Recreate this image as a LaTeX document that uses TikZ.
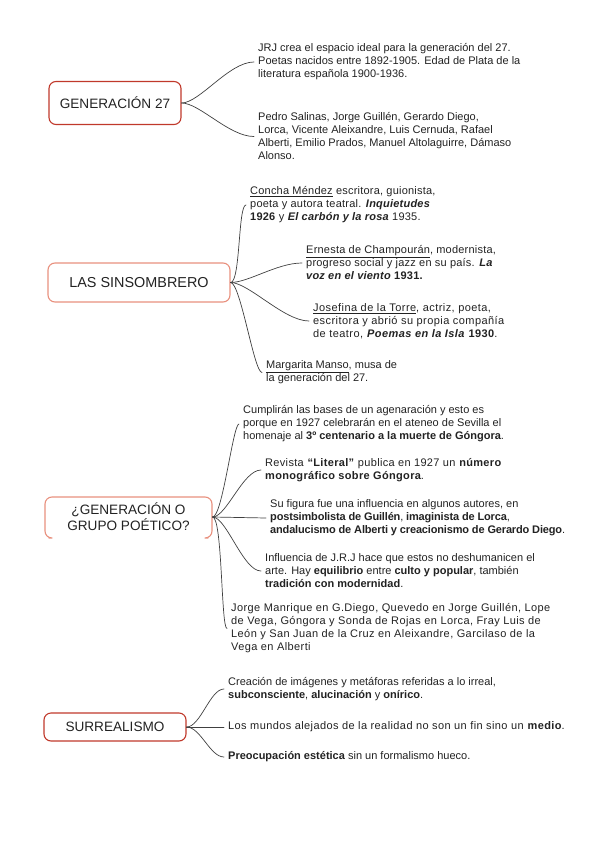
\documentclass[tikz,border=0pt]{standalone}
\usepackage{fontspec}
\setmainfont{Liberation Sans}
\definecolor{rojo}{HTML}{C0392B}
\definecolor{salmon}{HTML}{E8907E}
\definecolor{tinta}{HTML}{222222}
\begin{document}
\begin{tikzpicture}[
	x=1pt, y=-1pt, line join=round, line cap=round,
	every node/.style={text=tinta},
	tema/.style={rounded corners=7pt, line width=1.1pt, align=center, inner sep=0pt,
		font=\fontsize{13.6}{16}\selectfont},
	idea/.style={anchor=west, align=left, inner xsep=4pt, inner ysep=0pt,
		font=\fontsize{11}{13}\selectfont},
	abierta/.style={font=\fontsize{11}{13}\selectfont\addfontfeature{LetterSpace=#1}},
	rama/.style={draw=black!75, line width=0.7pt}
	]
	\useasboundingbox (0,0) rectangle (600,848);
	
	% 1. GENERACIÓN 27
	\node[tema, draw=rojo, minimum width=132pt, minimum height=43pt] (gen) at (115,103) {GENERACIÓN 27};
	\node[idea] (jrj) at (254,62) {JRJ crea el espacio ideal para la generación del 27.\\
		Poetas nacidos entre 1892-1905. Edad de Plata de la\\
		literatura española 1900-1936.};
	\node[idea] (poetas) at (254,136.5) {Pedro Salinas, Jorge Guillén, Gerardo Diego,\\
		Lorca, Vicente Aleixandre, Luis Cernuda, Rafael\\
		Alberti, Emilio Prados, Manuel Altolaguirre, Dámaso\\
		Alonso.};
	\draw[rama] (gen.east) .. controls +(18,0) and +(-25,0) .. (jrj.west);
	\draw[rama] (gen.east) .. controls +(18,0) and +(-25,0) .. (poetas.west);
	
	% 2. LAS SINSOMBRERO
	\node[tema, draw=salmon, minimum width=182pt, minimum height=39pt, font=\fontsize{14.4}{17}\selectfont] (sin) at (139,282.5) {LAS SINSOMBRERO};
	\node[idea, abierta=2] (concha) at (246,205) {\underline{Concha Méndez} escritora, guionista,\\
		poeta y autora teatral. \textbf{\textit{Inquietudes}}\\
		\textbf{1926} y \textbf{\textit{El carbón y la rosa}} 1935.};
	\node[idea, abierta=2] (ernesta) at (302,263) {\underline{Ernesta de Champourán}, modernista,\\
		progreso social y jazz en su país. \textbf{\textit{La}}\\
		\textbf{\textit{voz en el viento} 1931.}};
	\node[idea, abierta=4] (josefina) at (309,321) {\underline{Josefina de la Torre}, actriz, poeta,\\
		escritora y abrió su propia compañía\\
		de teatro, \textbf{\textit{Poemas en la Isla}} \textbf{1930}.};
	\node[idea] (margarita) at (262,372.5) {\underline{Margarita Manso}, musa de\\
		la generación del 27.};
	\draw[rama] (sin.east) .. controls +(10,0) and +(-8,0) .. (concha.west);
	\draw[rama] (sin.east) .. controls +(18,0) and +(-25,0) .. (ernesta.west);
	\draw[rama] (sin.east) .. controls +(18,0) and +(-25,0) .. (josefina.west);
	\draw[rama] (sin.east) .. controls +(10,0) and +(-8,0) .. (margarita.west);
	
	% 3. ¿GENERACIÓN O GRUPO POÉTICO?
	\draw[salmon, line width=1.1pt, rounded corners=7pt] (49,538) -- (45,538) -- (45,497) -- (212,497) -- (212,538) -- (208,538);
	\node[tema, minimum width=167pt, minimum height=40pt] (grupo) at (128.5,517) {¿GENERACIÓN O\\GRUPO POÉTICO?};
	\node[idea] (bases) at (239,424) {Cumplirán las bases de un agenaración y esto es\\
		porque en 1927 celebrarán en el ateneo de Sevilla el\\
		homenaje al \textbf{3º centenario a la muerte de Góngora}.};
	\node[idea, abierta=3] (revista) at (261,470) {Revista \textbf{“Literal”} publica en 1927 un \textbf{número}\\
		\textbf{monográfico sobre Góngora}.};
	\node[idea] (figura) at (266,518) {Su figura fue una influencia en algunos autores, en\\
		{\addfontfeature{LetterSpace=-1.5}\textbf{postsimbolista de Guillén}, \textbf{imaginista de Lorca},}\\
		{\addfontfeature{LetterSpace=-1.5}\textbf{andalucismo de Alberti y creacionismo de Gerardo Diego}.}};
	\node[idea] (jrj2) at (261,571) {Influencia de J.R.J hace que estos no deshumanicen el\\
		arte. Hay \textbf{equilibrio} entre \textbf{culto y popular}, también\\
		\textbf{tradición con modernidad}.};
	\node[idea, abierta=3.7] (clasicos) at (227,628.5) {Jorge Manrique en G.Diego, Quevedo en Jorge Guillén, Lope\\
		de Vega, Góngora y Sonda de Rojas en Lorca, Fray Luis de\\
		León y San Juan de la Cruz en Aleixandre, Garcilaso de la\\
		Vega en Alberti};
	\draw[rama] (grupo.east) .. controls +(10,0) and +(-6,0) .. (bases.west);
	\draw[rama] (grupo.east) .. controls +(14,0) and +(-18,0) .. (revista.west);
	\draw[rama] (grupo.east) -- (figura.west);
	\draw[rama] (grupo.east) .. controls +(14,0) and +(-18,0) .. (jrj2.west);
	\draw[rama] (grupo.east) .. controls +(10,0) and +(-6,0) .. (clasicos.west);
	
	% 4. SURREALISMO
	\node[tema, draw=rojo, minimum width=142pt, minimum height=28pt] (surr) at (115,727) {SURREALISMO};
	\node[idea] (irreal) at (224,689) {Creación de imágenes y metáforas referidas a lo irreal,\\
		\textbf{subconsciente}, \textbf{alucinación} y \textbf{onírico}.};
	\node[idea, abierta=3.7] (medio) at (224,727) {Los mundos alejados de la realidad no son un fin sino un \textbf{medio}.};
	\node[idea] (estetica) at (224,757) {\textbf{Preocupación estética} sin un formalismo hueco.};
	\draw[rama] (surr.east) .. controls +(14,0) and +(-14,0) .. (irreal.west);
	\draw[rama] (surr.east) -- (medio.west);
	\draw[rama] (surr.east) .. controls +(14,0) and +(-14,0) .. (estetica.west);
	
\end{tikzpicture}
\end{document}
